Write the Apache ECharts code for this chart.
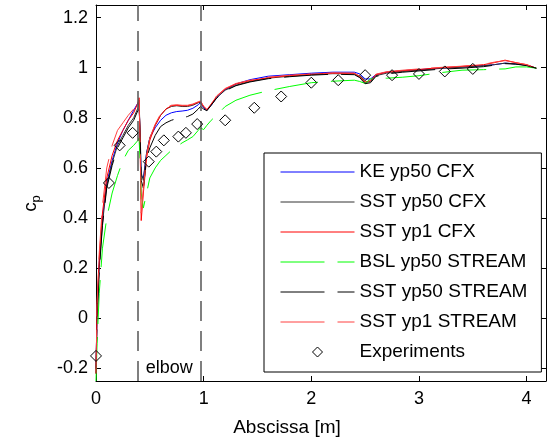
<!DOCTYPE html>
<html>
<head>
<meta charset="utf-8">
<script src="https://cdn.jsdelivr.net/npm/echarts@6/dist/echarts.min.js"></script>
<style>
  html, body { margin: 0; padding: 0; background: #fff; }
  #main { width: 553px; height: 443px; }
</style>
</head>
<body>
<div id="main"></div>
<script>
// abscissa shared by all computed curves [m]
var abscissa = [0, 0.01, 0.03, 0.06, 0.1, 0.15, 0.2, 0.25, 0.3, 0.35, 0.39, 0.4, 0.41, 0.42, 0.44, 0.47, 0.5, 0.55, 0.6, 0.65,
    0.7, 0.75, 0.8, 0.85, 0.9, 0.95, 0.97, 1.0, 1.03, 1.07, 1.12, 1.2, 1.3, 1.43, 1.6, 1.8, 2.0, 2.2, 2.4, 2.45,
    2.5, 2.55, 2.6, 2.7, 2.85, 3.0, 3.2, 3.4, 3.6, 3.7, 3.8, 3.9, 4.0, 4.09];

var keYp50Cfx = [-0.2, 0.03, 0.22, 0.4, 0.54, 0.63, 0.7, 0.75, 0.79, 0.83, 0.86, 0.87, 0.72, 0.57, 0.56, 0.66, 0.72, 0.76, 0.79, 0.81,
    0.82, 0.825, 0.827, 0.83, 0.838, 0.852, 0.86, 0.84, 0.83, 0.85, 0.88, 0.912, 0.935, 0.952, 0.966, 0.972, 0.978, 0.982, 0.982, 0.975,
    0.955, 0.955, 0.972, 0.982, 0.988, 0.992, 0.998, 1.003, 1.008, 1.012, 1.018, 1.015, 1.01, 0.998];

var sstYp50Cfx = [-0.2, 0.02, 0.2, 0.38, 0.53, 0.62, 0.69, 0.73, 0.77, 0.8, 0.84, 0.87, 0.74, 0.58, 0.55, 0.66, 0.72, 0.77, 0.81, 0.835,
    0.845, 0.848, 0.845, 0.845, 0.85, 0.86, 0.862, 0.843, 0.83, 0.852, 0.88, 0.91, 0.93, 0.945, 0.958, 0.966, 0.972, 0.976, 0.975, 0.963,
    0.94, 0.945, 0.968, 0.978, 0.985, 0.99, 0.997, 1.002, 1.008, 1.012, 1.018, 1.015, 1.01, 0.998];

var sstYp1Cfx = [-0.22, 0.05, 0.24, 0.42, 0.56, 0.65, 0.71, 0.75, 0.79, 0.82, 0.86, 0.88, 0.7, 0.39, 0.5, 0.64, 0.71, 0.77, 0.81, 0.835,
    0.848, 0.85, 0.848, 0.848, 0.853, 0.862, 0.866, 0.845, 0.832, 0.855, 0.885, 0.915, 0.935, 0.948, 0.96, 0.968, 0.974, 0.978, 0.977, 0.965,
    0.943, 0.948, 0.972, 0.982, 0.988, 0.993, 1.0, 1.005, 1.012, 1.02, 1.03, 1.02, 1.012, 0.998];

var bslYp50Stream = [-0.25, -0.1, 0.1, 0.28, 0.4, 0.5, 0.57, 0.63, 0.67, 0.69, 0.71, 0.72, 0.62, 0.5, 0.44, 0.5, 0.56, 0.6, 0.63, 0.65,
    0.67, 0.685, 0.7, 0.712, 0.725, 0.75, 0.76, 0.753, 0.77, 0.79, 0.81, 0.845, 0.87, 0.89, 0.908, 0.925, 0.94, 0.946, 0.95, 0.945,
    0.937, 0.955, 0.958, 0.958, 0.962, 0.968, 0.98, 0.99, 0.992, 0.994, 0.995, 1.003, 1.003, 0.998];

var sstYp50Stream = [-0.22, 0.0, 0.19, 0.37, 0.52, 0.61, 0.68, 0.72, 0.76, 0.79, 0.83, 0.86, 0.72, 0.55, 0.52, 0.64, 0.68, 0.73, 0.765, 0.78,
    0.79, 0.797, 0.8, 0.805, 0.815, 0.835, 0.845, 0.835, 0.828, 0.85, 0.878, 0.908, 0.928, 0.943, 0.956, 0.964, 0.97, 0.974, 0.972, 0.96,
    0.936, 0.94, 0.965, 0.975, 0.982, 0.987, 0.994, 0.998, 1.004, 1.01, 1.016, 1.014, 1.008, 0.998];

var sstYp1Stream = [-0.22, 0.06, 0.26, 0.45, 0.6, 0.69, 0.75, 0.78, 0.81, 0.835, 0.865, 0.88, 0.7, 0.42, 0.52, 0.65, 0.72, 0.775, 0.815, 0.838,
    0.85, 0.852, 0.85, 0.85, 0.855, 0.864, 0.867, 0.846, 0.834, 0.857, 0.887, 0.917, 0.937, 0.95, 0.962, 0.97, 0.975, 0.979, 0.978, 0.966,
    0.945, 0.95, 0.974, 0.984, 0.99, 0.995, 1.001, 1.006, 1.013, 1.022, 1.028, 1.02, 1.012, 0.998];

// experiments
var expX = [0, 0.12, 0.22, 0.34, 0.49, 0.56, 0.63, 0.765, 0.835, 0.94, 1.2, 1.47, 1.72, 2.0, 2.25, 2.5, 2.75, 3.0, 3.24, 3.5];
var expCp = [-0.15, 0.54, 0.69, 0.74, 0.625, 0.665, 0.71, 0.725, 0.74, 0.775, 0.79, 0.84, 0.885, 0.94, 0.95, 0.97, 0.97, 0.975, 0.985, 0.995];

var xTicks = [0, 1, 2, 3, 4];
var yTicks = [-0.2, 0, 0.2, 0.4, 0.6, 0.8, 1, 1.2];
var elbowBounds = [0.39, 0.97];

var curveNames = ['KE yp50 CFX', 'SST yp50 CFX', 'SST yp1 CFX', 'BSL yp50 STREAM', 'SST yp50 STREAM', 'SST yp1 STREAM'];

var FONT = '"Liberation Sans", Arial, sans-serif';

function pairs(ys) {
    return abscissa.map(function (x, i) { return [x, ys[i]]; });
}

function curve(name, ys, color, dashed) {
    return {
        name: name,
        type: 'line',
        data: pairs(ys),
        symbol: 'none',
        showSymbol: false,
        lineStyle: { color: color, width: 1, type: dashed ? [44, 13] : 'solid' },
        itemStyle: { color: color },
        animation: false
    };
}

var boxAxis = {
    axisLine: { show: true, onZero: false, lineStyle: { color: '#000', width: 1 } },
    splitLine: { show: false }
};

// legend entries: curves show only their line, experiments only the diamond
var legendData = curveNames.map(function (n) {
    return { name: n, itemStyle: { opacity: 0 }, lineStyle: { width: 1 } };
});
legendData.push({
    name: 'Experiments',
    lineStyle: { opacity: 0 },
    itemStyle: { color: 'transparent', borderColor: '#000', borderWidth: 1 }
});

var myChart = echarts.init(document.getElementById('main'));
myChart.setOption({
    backgroundColor: '#fff',
    animation: false,
    grid: { left: 96, right: 7, top: 5, bottom: 62 },
    xAxis: [{
        type: 'value', min: 0, max: 4.18,
        axisLine: boxAxis.axisLine, splitLine: boxAxis.splitLine,
        axisTick: { inside: true, length: 5, customValues: xTicks, lineStyle: { color: '#000' } },
        axisLabel: { customValues: xTicks, fontSize: 18, color: '#000', fontFamily: FONT, margin: 9 }
    }, {
        type: 'value', min: 0, max: 4.18, position: 'top',
        axisLine: boxAxis.axisLine, splitLine: boxAxis.splitLine,
        axisTick: { inside: true, length: 5, customValues: xTicks, lineStyle: { color: '#000' } },
        axisLabel: { show: false }
    }],
    yAxis: [{
        type: 'value', min: -0.25, max: 1.25,
        axisLine: boxAxis.axisLine, splitLine: boxAxis.splitLine,
        axisTick: { inside: true, length: 5, customValues: yTicks, lineStyle: { color: '#000' } },
        axisLabel: { customValues: yTicks, fontSize: 18, color: '#000', fontFamily: FONT, margin: 8 }
    }, {
        type: 'value', min: -0.25, max: 1.25, position: 'right',
        axisLine: boxAxis.axisLine, splitLine: boxAxis.splitLine,
        axisTick: { inside: true, length: 5, customValues: yTicks, lineStyle: { color: '#000' } },
        axisLabel: { show: false }
    }],
    legend: {
        orient: 'vertical',
        left: 264,
        top: 153,
        itemWidth: 74,
        itemHeight: 12.5,
        itemGap: 10,
        padding: [9, 14, 10, 16],
        borderColor: '#000',
        borderWidth: 1,
        borderRadius: 0,
        backgroundColor: '#fff',
        textStyle: { fontSize: 19, lineHeight: 20, color: '#000', fontFamily: FONT },
        data: legendData
    },
    series: [
        curve(curveNames[0], keYp50Cfx, '#0000ff', false),
        curve(curveNames[1], sstYp50Cfx, '#333333', false),
        curve(curveNames[2], sstYp1Cfx, '#ff0000', false),
        curve(curveNames[3], bslYp50Stream, '#00ff00', true),
        curve(curveNames[4], sstYp50Stream, '#000000', true),
        curve(curveNames[5], sstYp1Stream, '#ff4040', true),
        {
            name: 'Experiments',
            type: 'line',
            data: expX.map(function (x, i) { return [x, expCp[i]]; }),
            symbol: 'diamond',
            symbolSize: 11,
            showSymbol: true,
            lineStyle: { opacity: 0, width: 0 },
            itemStyle: { color: 'transparent', borderColor: '#000', borderWidth: 1 },
            z: 5,
            markLine: {
                silent: true,
                symbol: 'none',
                label: { show: false },
                lineStyle: { color: '#555', width: 1.5, type: [20, 10] },
                data: elbowBounds.map(function (v) { return { xAxis: v }; })
            }
        }
    ]
});

// annotation and axis names
var elbowPos = myChart.convertToPixel({ xAxisIndex: 0, yAxisIndex: 0 }, [(elbowBounds[0] + elbowBounds[1]) / 2, -0.2]);
myChart.setOption({
    graphic: [
        { type: 'text', x: elbowPos[0], y: elbowPos[1],
          style: { text: 'elbow', font: '18px ' + FONT, fill: '#000', align: 'center', verticalAlign: 'middle' } },
        { type: 'text', x: 287, y: 428,
          style: { text: 'Abscissa [m]', font: '19px ' + FONT, fill: '#000', align: 'center', verticalAlign: 'middle' } },
        { type: 'text', x: 31, y: 207, rotation: Math.PI / 2,
          style: { text: 'c', font: '19px ' + FONT, fill: '#000', align: 'center', verticalAlign: 'middle' } },
        { type: 'text', x: 36, y: 199, rotation: Math.PI / 2,
          style: { text: 'p', font: '13px ' + FONT, fill: '#000', align: 'center', verticalAlign: 'middle' } }
    ]
});
</script>
</body>
</html>
